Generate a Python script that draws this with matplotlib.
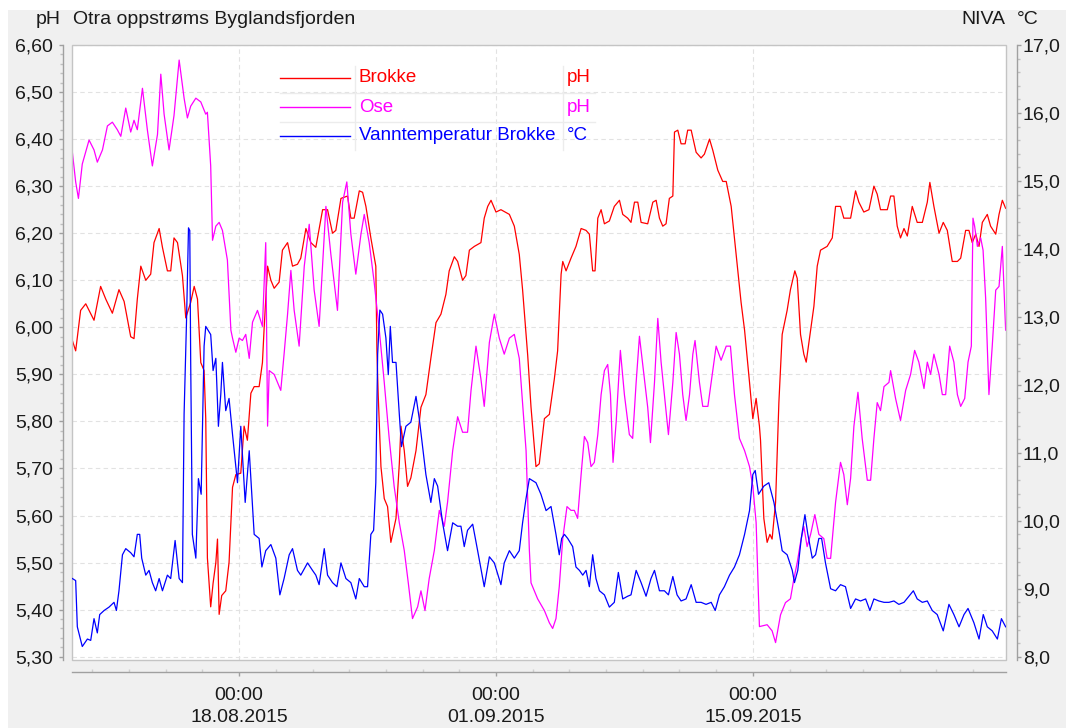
import matplotlib
matplotlib.use("Agg")
import matplotlib.pyplot as plt
import matplotlib.dates as mdates
from matplotlib.patches import Rectangle
from matplotlib.lines import Line2D
from matplotlib.ticker import FuncFormatter, MultipleLocator
import pandas as pd

plt.rcParams['font.family'] = ['Liberation Sans', 'DejaVu Sans']

# time is given as days since 01.08.2015 00:00
start = pd.Timestamp('2015-08-01')

# Brokke pH (red)
brokke_t = [7.91, 8.09, 8.36, 8.64, 9.09, 9.45, 9.73, 10.09, 10.45, 10.73, 11.09, 11.27, 11.45, 11.64,
            11.91, 12.18, 12.36, 12.64, 12.82, 13.09, 13.27, 13.45, 13.64, 13.91, 14.09, 14.36, 14.55,
            14.73, 14.91, 15.09, 15.18, 15.27, 15.45, 15.58, 15.73, 15.82, 15.91, 16.05, 16.27, 16.45,
            16.64, 16.82, 17.09, 17.27, 17.45, 17.64, 17.82, 18.09, 18.27, 18.36, 18.55, 18.73, 18.91,
            19.18, 19.36, 19.64, 19.91, 20.18, 20.36, 20.64, 20.91, 21.18, 21.55, 21.82, 22.09, 22.27,
            22.55, 22.91, 23.09, 23.27, 23.55, 23.73, 23.91, 24.18, 24.45, 24.51, 24.58, 24.73, 24.91,
            25.09, 25.27, 25.55, 25.73, 25.82, 26.00, 26.18, 26.36, 26.64, 26.91, 27.18, 27.45, 27.73,
            28.00, 28.27, 28.45, 28.73, 28.91, 29.18, 29.36, 29.55, 29.82, 30.18, 30.36, 30.55, 30.73,
            31.00, 31.27, 31.73, 32.00, 32.27, 32.45, 32.73, 32.91, 33.18, 33.36, 33.64, 33.91, 34.18,
            34.36, 34.55, 34.64, 34.82, 35.09, 35.36, 35.64, 35.91, 36.09, 36.27, 36.40, 36.55, 36.73,
            36.91, 37.18, 37.45, 37.73, 37.91, 38.18, 38.36, 38.55, 38.73, 38.91, 39.27, 39.55, 39.73,
            39.91, 40.09, 40.27, 40.45, 40.64, 40.73, 40.91, 41.09, 41.31, 41.45, 41.64, 41.91, 42.18,
            42.36, 42.64, 42.82, 43.09, 43.36, 43.55, 43.82, 44.09, 44.36, 44.55, 44.82, 45.00, 45.18,
            45.36, 45.42, 45.60, 45.78, 45.93, 46.05, 46.24, 46.42, 46.60, 46.87, 47.05, 47.29, 47.42,
            47.60, 47.78, 47.91, 48.15, 48.33, 48.51, 48.69, 49.05, 49.33, 49.51, 49.78, 49.96, 50.33,
            50.60, 50.78, 51.05, 51.33, 51.60, 51.78, 51.96, 52.33, 52.51, 52.69, 52.87, 53.05, 53.24,
            53.42, 53.69, 53.96, 54.24, 54.51, 54.65, 54.87, 55.15, 55.38, 55.60, 55.87, 56.15, 56.33,
            56.60, 56.78, 56.96, 57.15, 57.33, 57.51, 57.78, 57.96, 58.24, 58.42, 58.60, 58.78]
brokke_ph = [5.972, 5.95, 6.036, 6.05, 6.015, 6.087, 6.06, 6.03, 6.08, 6.055, 5.98, 5.976, 6.06, 6.13,
             6.10, 6.113, 6.18, 6.21, 6.17, 6.12, 6.12, 6.19, 6.18, 6.11, 6.02, 6.053, 6.087,
             6.06, 5.925, 5.908, 5.806, 5.51, 5.406, 5.456, 5.50, 5.55, 5.39, 5.43, 5.44, 5.50,
             5.66, 5.687, 5.69, 5.79, 5.76, 5.86, 5.874, 5.874, 5.925, 5.996, 6.13, 6.10, 6.083,
             6.096, 6.164, 6.18, 6.13, 6.134, 6.147, 6.21, 6.18, 6.17, 6.25, 6.25, 6.20, 6.206,
             6.274, 6.279, 6.232, 6.232, 6.29, 6.287, 6.257, 6.19, 6.13, 5.95, 5.857, 5.704, 5.636,
             5.619, 5.543, 5.594, 5.71, 5.79, 5.738, 5.662, 5.68, 5.738, 5.83, 5.857, 5.934, 6.01,
             6.028, 6.07, 6.12, 6.15, 6.14, 6.10, 6.11, 6.164, 6.172, 6.18, 6.232, 6.257, 6.27,
             6.245, 6.25, 6.24, 6.215, 6.155, 6.08, 5.94, 5.83, 5.704, 5.71, 5.806, 5.815, 5.89,
             5.95, 6.113, 6.14, 6.12, 6.147, 6.172, 6.21, 6.206, 6.198, 6.12, 6.12, 6.232, 6.25,
             6.22, 6.226, 6.257, 6.27, 6.24, 6.232, 6.223, 6.266, 6.266, 6.223, 6.22, 6.266, 6.27,
             6.232, 6.215, 6.22, 6.274, 6.279, 6.415, 6.419, 6.39, 6.39, 6.419, 6.419, 6.372, 6.36,
             6.368, 6.40, 6.376, 6.334, 6.31, 6.31, 6.257, 6.155, 6.053, 5.994, 5.883, 5.806, 5.849,
             5.79, 5.76, 5.594, 5.543, 5.56, 5.55, 5.628, 5.84, 5.985, 6.036, 6.08, 6.12, 6.104,
             5.985, 5.943, 5.926, 5.994, 6.045, 6.13, 6.164, 6.172, 6.19, 6.257, 6.257, 6.232, 6.232,
             6.29, 6.266, 6.245, 6.25, 6.30, 6.283, 6.25, 6.25, 6.279, 6.279, 6.215, 6.19, 6.21,
             6.194, 6.257, 6.223, 6.223, 6.266, 6.308, 6.257, 6.20, 6.223, 6.206, 6.14, 6.14, 6.147,
             6.206, 6.206, 6.18, 6.198, 6.172, 6.223, 6.24, 6.215, 6.198, 6.24, 6.27, 6.253]

# Ose pH (magenta)
ose_t = [7.91, 8.09, 8.24, 8.45, 8.82, 9.09, 9.27, 9.55, 9.82, 10.09, 10.36, 10.55, 10.82, 11.09,
         11.27, 11.45, 11.73, 12.00, 12.27, 12.55, 12.73, 12.91, 13.18, 13.45, 13.73, 14.00, 14.18,
         14.36, 14.64, 14.91, 15.18, 15.27, 15.45, 15.55, 15.73, 15.91, 16.09, 16.36, 16.55, 16.64,
         16.82, 17.00, 17.18, 17.36, 17.55, 17.73, 18.00, 18.27, 18.45, 18.55, 18.64, 18.91, 19.27,
         19.45, 19.64, 19.82, 20.00, 20.27, 20.55, 20.82, 21.09, 21.36, 21.73, 22.00, 22.36, 22.64,
         22.87, 23.09, 23.36, 23.64, 23.82, 24.09, 24.36, 24.64, 24.91, 25.18, 25.45, 25.73, 26.00,
         26.22, 26.45, 26.73, 26.91, 27.13, 27.36, 27.64, 27.91, 28.18, 28.36, 28.64, 28.91, 29.18,
         29.45, 29.64, 29.91, 30.18, 30.36, 30.64, 30.91, 31.18, 31.45, 31.73, 32.00, 32.27, 32.45,
         32.64, 32.82, 32.91, 33.27, 33.64, 33.91, 34.09, 34.27, 34.45, 34.64, 34.87, 35.09, 35.27,
         35.45, 35.64, 35.82, 36.00, 36.18, 36.36, 36.55, 36.73, 36.91, 37.09, 37.24, 37.38, 37.55,
         37.78, 38.00, 38.27, 38.45, 38.64, 38.82, 39.09, 39.27, 39.42, 39.64, 39.82, 40.00, 40.18,
         40.40, 40.64, 40.82, 41.00, 41.18, 41.36, 41.55, 41.73, 41.85, 42.09, 42.27, 42.55, 42.82,
         43.00, 43.27, 43.55, 43.78, 44.00, 44.27, 44.55, 44.82, 45.00, 45.18, 45.36, 45.78, 46.05,
         46.24, 46.51, 46.78, 47.05, 47.24, 47.42, 47.60, 47.78, 47.96, 48.15, 48.38, 48.60, 48.87,
         49.05, 49.24, 49.51, 49.78, 49.96, 50.15, 50.33, 50.51, 50.73, 50.96, 51.24, 51.42, 51.60,
         51.78, 51.96, 52.15, 52.42, 52.51, 52.78, 53.05, 53.33, 53.60, 53.82, 54.05, 54.33, 54.51,
         54.69, 54.87, 55.15, 55.33, 55.51, 55.73, 55.96, 56.15, 56.33, 56.55, 56.73, 56.91, 57.00,
         57.09, 57.24, 57.42, 57.55, 57.69, 57.87, 58.05, 58.24, 58.42, 58.60, 58.78]
ose_ph = [6.372, 6.309, 6.274, 6.347, 6.398, 6.377, 6.351, 6.377, 6.428, 6.436, 6.42, 6.406, 6.466, 6.415,
          6.44, 6.42, 6.508, 6.419, 6.343, 6.41, 6.538, 6.453, 6.377, 6.45, 6.568, 6.487, 6.445,
          6.47, 6.487, 6.479, 6.453, 6.457, 6.343, 6.185, 6.215, 6.223, 6.206, 6.143, 5.994, 5.977,
          5.947, 5.977, 5.972, 5.985, 5.934, 6.011, 6.036, 6.002, 6.18, 5.79, 5.908, 5.90, 5.866,
          5.943, 6.028, 6.121, 6.036, 5.96, 6.13, 6.219, 6.079, 6.002, 6.257, 6.155, 6.036, 6.266,
          6.309, 6.198, 6.113, 6.198, 6.24, 6.18, 6.096, 5.994, 5.883, 5.764, 5.662, 5.585, 5.526,
          5.457, 5.381, 5.406, 5.44, 5.398, 5.466, 5.526, 5.611, 5.577, 5.628, 5.738, 5.81, 5.777,
          5.777, 5.866, 5.96, 5.89, 5.832, 5.968, 6.028, 5.977, 5.943, 5.977, 5.985, 5.934, 5.84,
          5.738, 5.526, 5.457, 5.423, 5.398, 5.372, 5.36, 5.381, 5.449, 5.551, 5.619, 5.611, 5.611,
          5.594, 5.687, 5.768, 5.755, 5.704, 5.713, 5.772, 5.857, 5.908, 5.921, 5.857, 5.713, 5.798,
          5.951, 5.857, 5.772, 5.764, 5.883, 5.981, 5.89, 5.83, 5.755, 5.883, 6.019, 5.926, 5.857,
          5.772, 5.883, 5.989, 5.943, 5.857, 5.802, 5.857, 5.943, 5.972, 5.883, 5.832, 5.832, 5.908,
          5.96, 5.93, 5.96, 5.96, 5.857, 5.764, 5.738, 5.704, 5.662, 5.585, 5.364, 5.368, 5.355,
          5.33, 5.389, 5.415, 5.423, 5.466, 5.50, 5.543, 5.577, 5.534, 5.56, 5.602, 5.56, 5.551,
          5.509, 5.509, 5.628, 5.713, 5.687, 5.623, 5.679, 5.79, 5.862, 5.764, 5.675, 5.675, 5.764,
          5.84, 5.823, 5.874, 5.883, 5.908, 5.849, 5.802, 5.866, 5.90, 5.951, 5.926, 5.87, 5.926,
          5.90, 5.943, 5.90, 5.857, 5.857, 5.96, 5.926, 5.857, 5.832, 5.849, 5.926, 5.96, 6.232,
          6.215, 6.172, 6.19, 6.164, 6.062, 5.857, 5.96, 6.079, 6.087, 6.172, 5.994]

# Vanntemperatur Brokke (blue), degrees C
temp_t = [7.91, 8.09, 8.18, 8.45, 8.73, 8.91, 9.09, 9.27, 9.40, 9.64, 9.91, 10.18, 10.31, 10.45,
          10.64, 10.82, 11.09, 11.27, 11.45, 11.58, 11.69, 11.91, 12.09, 12.27, 12.45, 12.64, 12.82,
          13.09, 13.27, 13.51, 13.73, 13.91, 14.00, 14.13, 14.24, 14.31, 14.36, 14.45, 14.64, 14.78,
          14.93, 15.09, 15.18, 15.45, 15.58, 15.73, 15.87, 16.00, 16.09, 16.27, 16.45, 16.64, 16.91,
          17.09, 17.33, 17.55, 17.82, 18.09, 18.24, 18.45, 18.73, 19.00, 19.22, 19.45, 19.73, 19.91,
          20.18, 20.36, 20.73, 21.00, 21.18, 21.36, 21.64, 21.82, 22.09, 22.33, 22.55, 22.82, 23.09,
          23.36, 23.55, 23.82, 24.00, 24.18, 24.33, 24.45, 24.55, 24.67, 24.82, 25.00, 25.13, 25.24,
          25.36, 25.55, 25.73, 25.85, 26.09, 26.36, 26.64, 26.82, 27.00, 27.18, 27.45, 27.64, 27.82,
          28.09, 28.36, 28.64, 28.91, 29.09, 29.27, 29.45, 29.73, 30.00, 30.36, 30.64, 30.91, 31.27,
          31.45, 31.73, 32.00, 32.27, 32.45, 32.64, 32.82, 33.18, 33.45, 33.73, 34.00, 34.27, 34.45,
          34.58, 34.73, 34.91, 35.18, 35.36, 35.55, 35.73, 35.91, 36.09, 36.27, 36.45, 36.64, 36.91,
          37.18, 37.45, 37.67, 37.91, 38.18, 38.36, 38.64, 38.91, 39.18, 39.45, 39.64, 39.91, 40.18,
          40.40, 40.64, 40.87, 41.09, 41.36, 41.64, 41.91, 42.18, 42.45, 42.73, 42.95, 43.18, 43.45,
          43.73, 44.00, 44.27, 44.55, 44.82, 45.00, 45.13, 45.31, 45.60, 45.87, 46.15, 46.42, 46.60,
          46.87, 47.15, 47.27, 47.45, 47.64, 47.84, 48.00, 48.24, 48.42, 48.60, 48.75, 48.96, 49.24,
          49.51, 49.78, 50.05, 50.33, 50.60, 50.87, 51.15, 51.38, 51.60, 51.87, 52.15, 52.42, 52.69,
          52.96, 53.24, 53.51, 53.75, 53.96, 54.24, 54.51, 54.78, 55.05, 55.38, 55.69, 55.96, 56.24,
          56.51, 56.73, 57.05, 57.33, 57.56, 57.78, 58.05, 58.33, 58.55, 58.78]
temp_c = [9.15, 9.12, 8.44, 8.15, 8.26, 8.24, 8.56, 8.35, 8.62, 8.68, 8.73, 8.80, 8.68, 8.97,
          9.50, 9.59, 9.53, 9.47, 9.80, 9.80, 9.45, 9.20, 9.27, 9.09, 8.97, 9.15, 8.97,
          9.20, 9.15, 9.71, 9.15, 9.09, 11.57, 12.92, 14.31, 14.27, 12.33, 9.80, 9.45, 10.62,
          10.39, 12.57, 12.86, 12.74, 12.21, 12.39, 11.39, 11.86, 12.33, 11.62, 11.80, 11.27, 10.56,
          11.39, 10.27, 11.03, 9.80, 9.74, 9.32, 9.56, 9.65, 9.45, 8.91, 9.15, 9.50, 9.59,
          9.27, 9.20, 9.38, 9.27, 9.20, 9.06, 9.59, 9.20, 9.09, 9.03, 9.38, 9.15, 9.09,
          8.85, 9.15, 9.03, 9.03, 9.80, 9.86, 10.56, 12.45, 13.10, 13.04, 12.69, 12.15, 12.86,
          12.33, 12.33, 11.57, 11.09, 11.39, 11.45, 11.83, 11.50, 11.09, 10.68, 10.27, 10.62, 10.51,
          9.97, 9.56, 9.97, 9.92, 9.92, 9.62, 9.86, 9.95, 9.56, 9.03, 9.47, 9.38, 9.06,
          9.38, 9.56, 9.45, 9.56, 9.97, 10.33, 10.62, 10.56, 10.39, 10.15, 10.21, 9.80, 9.50,
          9.74, 9.80, 9.74, 9.62, 9.32, 9.27, 9.20, 9.27, 9.03, 9.50, 9.15, 8.97, 8.91,
          8.73, 8.80, 9.24, 8.85, 8.89, 8.91, 9.27, 9.09, 8.89, 9.15, 9.27, 8.97, 8.97,
          8.91, 9.18, 8.91, 8.82, 8.85, 9.06, 8.80, 8.80, 8.77, 8.80, 8.68, 8.91, 9.03,
          9.20, 9.32, 9.50, 9.80, 10.15, 10.68, 10.74, 10.39, 10.51, 10.56, 10.27, 9.86, 9.56,
          9.50, 9.27, 9.09, 9.27, 9.74, 10.09, 9.80, 9.45, 9.50, 9.74, 9.74, 9.38, 9.00,
          8.97, 9.06, 9.03, 8.71, 8.85, 8.82, 8.85, 8.68, 8.85, 8.82, 8.80, 8.80, 8.82,
          8.77, 8.80, 8.89, 8.97, 8.85, 8.80, 8.82, 8.68, 8.62, 8.38, 8.77, 8.62, 8.44,
          8.62, 8.71, 8.50, 8.26, 8.62, 8.44, 8.38, 8.26, 8.56, 8.44]

series_names = ['Brokke', 'Ose', 'Vanntemperatur Brokke']
series_units = ['pH', 'pH', '°C']
series_colors = ['#ff0000', '#ff00ff', '#0000ff']
major_dates = ['2015-08-18', '2015-09-01', '2015-09-15']


def days(t):
    return start + pd.to_timedelta(t, unit='D')


W, H = 1066, 728
PT = 72 / 100  # points per pixel at dpi 100
fig = plt.figure(figsize=(W / 100, H / 100), dpi=100, facecolor='white')


def fx(x):
    return x / W


def fy(y):
    return 1 - y / H


fig.patches.append(Rectangle((fx(8), 0), 1 - fx(8), fy(10), transform=fig.transFigure,
                             facecolor='#f0f0f0', edgecolor='none', zorder=-10))

ax = fig.add_axes([fx(72), fy(660), fx(1006) - fx(72), fy(45) - fy(660)])
ax2 = ax.twinx()
ax.set_facecolor('white')
ax.set_zorder(ax2.get_zorder() - 1)
ax2.patch.set_visible(False)

ax.plot(days(brokke_t), brokke_ph, color=series_colors[0], lw=0.9)
ax.plot(days(ose_t), ose_ph, color=series_colors[1], lw=0.9)
ax2.plot(days(temp_t), temp_c, color=series_colors[2], lw=0.9)

grid_c = '#e2e2e2'
for v in [5.3 + 0.1 * i for i in range(14)]:
    ax.axhline(v, color=grid_c, lw=0.8, ls=(0, (4, 3)), zorder=0)
for d in major_dates:
    ax.axvline(pd.Timestamp(d), color=grid_c, lw=0.8, ls=(0, (4, 3)), zorder=0)

frame = Rectangle((0, 0), 1, 1, transform=ax.transAxes, fill=False, edgecolor='#c4c4c4', lw=1.0,
                  zorder=5, clip_on=False)
ax.add_patch(frame)

spine_c = '#a0a0a0'
for s in ['top', 'right']:
    ax.spines[s].set_visible(False)
for s in ['top', 'left', 'bottom']:
    ax2.spines[s].set_visible(False)
ax.spines['left'].set_position(('outward', 9 * PT))
ax.spines['bottom'].set_position(('outward', 12 * PT))
ax2.spines['right'].set_position(('outward', 11 * PT))
for sp in [ax.spines['left'], ax.spines['bottom'], ax2.spines['right']]:
    sp.set_color(spine_c)
    sp.set_linewidth(1.0)

fmt_ph = FuncFormatter(lambda v, p: f'{v:.2f}'.replace('.', ','))
fmt_c = FuncFormatter(lambda v, p: f'{v:.1f}'.replace('.', ','))
ax.yaxis.set_major_locator(MultipleLocator(0.1))
ax.yaxis.set_minor_locator(MultipleLocator(0.02))
ax.yaxis.set_major_formatter(fmt_ph)
ax2.yaxis.set_major_locator(MultipleLocator(1.0))
ax2.yaxis.set_minor_locator(MultipleLocator(0.2))
ax2.yaxis.set_major_formatter(fmt_c)

ax.set_xticks([pd.Timestamp(d) for d in major_dates])
ax.set_xticks(pd.date_range('2015-08-10', '2015-09-28', freq='2D'), minor=True)
ax.xaxis.set_major_formatter(mdates.DateFormatter('%H:%M\n%d.%m.%Y'))

# limits after ticks, so the tick lists do not widen the view
ph_lo, ph_hi = 5.293, 6.60
ax.set_ylim(ph_lo, ph_hi)
ax2.set_ylim(8 + (ph_lo - 5.3) * 9 / 1.3, 17.0)
ax.set_xlim(days(7.89), days(58.8))

tick_font = 14
ax.tick_params(axis='y', which='major', length=4 * PT, width=1, color=spine_c, pad=6 * PT,
               labelsize=tick_font, labelcolor='#1a1a1a')
ax.tick_params(axis='y', which='minor', length=3 * PT, width=1, color='#c0c0c0')
ax2.tick_params(axis='y', which='major', length=4 * PT, width=1, color=spine_c, pad=2 * PT,
                labelsize=tick_font, labelcolor='#1a1a1a')
ax2.tick_params(axis='y', which='minor', length=3 * PT, width=1, color='#c0c0c0')
ax.tick_params(axis='x', which='major', length=4 * PT, width=1, color=spine_c, pad=11 * PT,
               labelsize=tick_font, labelcolor='#1a1a1a')
ax.tick_params(axis='x', which='minor', length=3 * PT, width=1, color='#d0d0d0', direction='in')
for lab in ax.get_xticklabels():
    lab.set_linespacing(1.42)

# header texts
txt_kw = dict(fontsize=14, color='#1a1a1a', va='center')
fig.text(fx(36), fy(19), 'pH', ha='left', **txt_kw)
fig.text(fx(73), fy(19), 'Otra oppstrøms Byglandsfjorden', ha='left', **txt_kw)
fig.text(fx(1005), fy(19), 'NIVA', ha='right', **txt_kw)
fig.text(fx(1017), fy(19), '°C', ha='left', **txt_kw)

# legend table
leg_rows = [78, 107, 136]
sep_c = '#ececec'
for yy in [92.5, 121.5]:
    fig.add_artist(Line2D([fx(280), fx(595)], [fy(yy), fy(yy)], color=sep_c, lw=1.0))
for xx in [355, 563]:
    fig.add_artist(Line2D([fx(xx), fx(xx)], [fy(66), fy(150)], color=sep_c, lw=1.0))
for name, unit, col, yy in zip(series_names, series_units, series_colors, leg_rows):
    fig.add_artist(Line2D([fx(280), fx(350)], [fy(yy), fy(yy)], color=col, lw=1.0))
    fig.text(fx(359), fy(yy), name, color=col, fontsize=13.5, ha='left', va='center')
    fig.text(fx(567), fy(yy), unit, color=col, fontsize=13.5, ha='left', va='center')

fig.savefig('out.png', dpi=100, facecolor=fig.get_facecolor())
